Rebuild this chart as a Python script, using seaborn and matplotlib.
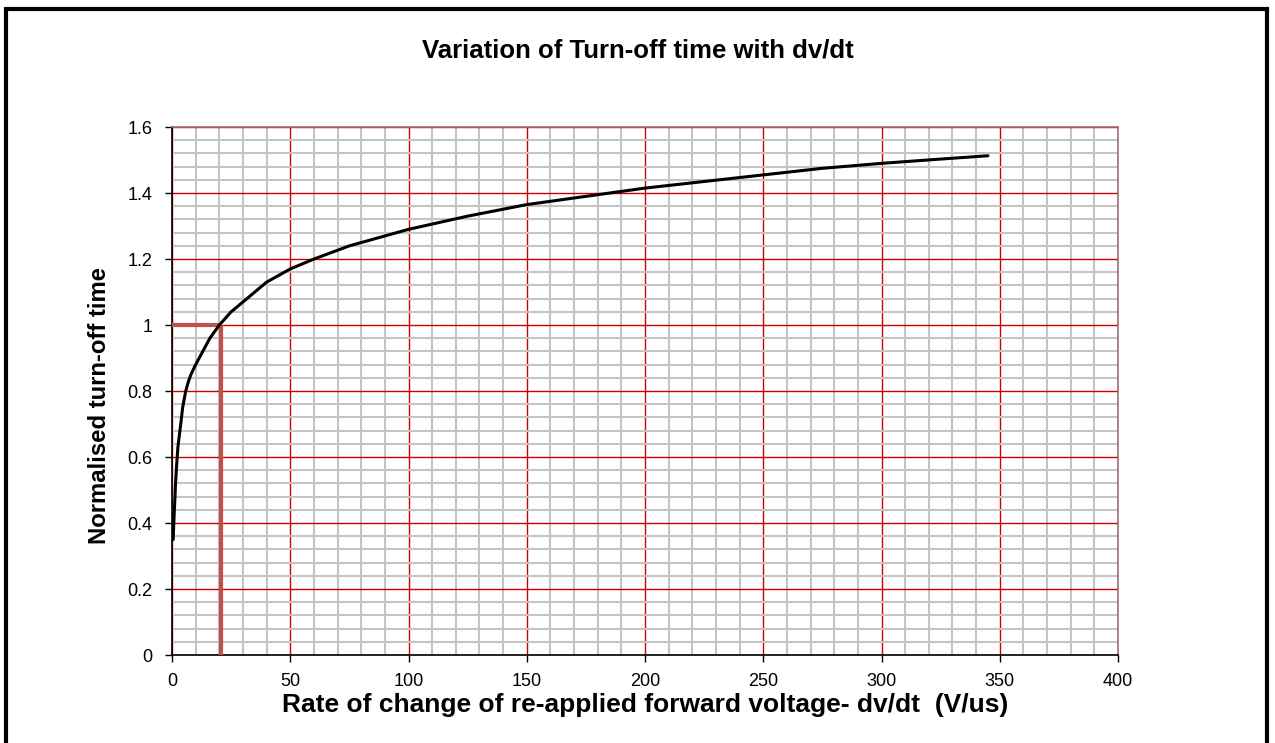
import numpy as np
import pandas as pd
import matplotlib
matplotlib.use("Agg")
import matplotlib.pyplot as plt
from matplotlib.patches import Rectangle
from matplotlib.ticker import MultipleLocator
import seaborn as sns

# values
dvdt = [0.5, 0.7, 1, 1.2, 1.5, 2, 2.5, 3, 3.7, 4.5, 5.8, 7, 8, 10, 11.5, 13,
        16, 18, 20, 25, 30, 35, 40, 45, 50, 60, 75, 90, 100, 125, 150, 175,
        200, 225, 250, 275, 300, 325, 345]
toff = [0.35, 0.39, 0.44, 0.47, 0.52, 0.58, 0.63, 0.66, 0.7, 0.75, 0.8, 0.83,
        0.85, 0.88, 0.9, 0.92, 0.96, 0.98, 1.0, 1.04, 1.07, 1.1, 1.13, 1.15,
        1.17, 1.2, 1.24, 1.27, 1.29, 1.33, 1.365, 1.39, 1.415, 1.435, 1.455,
        1.475, 1.49, 1.503, 1.513]

# reference marker at dv/dt = 20 V/us -> 1.0
ref_x = 20.7
ref_y = 1.0

sns.set_style("white")
plt.rcParams["font.family"] = ["Liberation Sans", "DejaVu Sans"]
plt.rcParams["text.color"] = "black"
plt.rcParams["axes.labelcolor"] = "black"
plt.rcParams["xtick.color"] = "black"
plt.rcParams["ytick.color"] = "black"

fig = plt.figure(figsize=(12.75, 7.43), dpi=100)
ax = fig.add_axes([0.1349, 0.1184, 0.742, 0.7106])

df = pd.DataFrame({"dvdt": dvdt, "toff": toff})
sns.lineplot(data=df, x="dvdt", y="toff", color="black", linewidth=2.2, ax=ax, zorder=5)

# reference lines
ax.plot([0, ref_x], [ref_y, ref_y], color="#C0504D", linewidth=3, zorder=4, solid_capstyle="butt")
ax.plot([ref_x, ref_x], [0, ref_y], color="#C0504D", linewidth=3, zorder=4, solid_capstyle="butt")

ax.set_xlim(0, 400)
ax.set_ylim(0, 1.6)
ax.xaxis.set_major_locator(MultipleLocator(50))
ax.xaxis.set_minor_locator(MultipleLocator(10))
ax.yaxis.set_minor_locator(MultipleLocator(0.04))
ax.set_yticks(np.arange(0, 1.61, 0.2))
ax.set_yticklabels(["0", "0.2", "0.4", "0.6", "0.8", "1", "1.2", "1.4", "1.6"])

ax.grid(which="minor", color="#C4C4C4", linewidth=1.5)
ax.grid(which="major", color="#CC0000", linewidth=1.0)
ax.set_axisbelow(True)

ax.tick_params(which="major", direction="out", length=5, width=1, labelsize=13,
               left=True, bottom=True)
ax.tick_params(axis="y", pad=9)
ax.tick_params(axis="x", pad=8)
ax.tick_params(which="minor", length=0)
for side in ["left", "bottom"]:
    ax.spines[side].set_color("black")
    ax.spines[side].set_linewidth(1.2)
for side in ["top", "right"]:
    ax.spines[side].set_color("#A07070")
    ax.spines[side].set_linewidth(1.2)

ax.set_xlabel("Rate of change of re-applied forward voltage- dv/dt  (V/us)",
              fontsize=19, fontweight="bold", labelpad=2)
ax.set_ylabel("Normalised turn-off time", fontsize=17.2, fontweight="bold", labelpad=12)
ax.yaxis.label.set_y(0.472)
fig.text(0.5, 0.932, "Variation of Turn-off time with dv/dt", ha="center", va="center",
         fontsize=18.5, fontweight="bold")

# outer chart frame
frame = Rectangle((6 / 1275, -0.02), 1261 / 1275, 1.02 - 9 / 743, transform=fig.transFigure,
                  fill=False, edgecolor="black", linewidth=3, clip_on=False)
fig.patches.append(frame)

fig.savefig("out.png", dpi=100)
